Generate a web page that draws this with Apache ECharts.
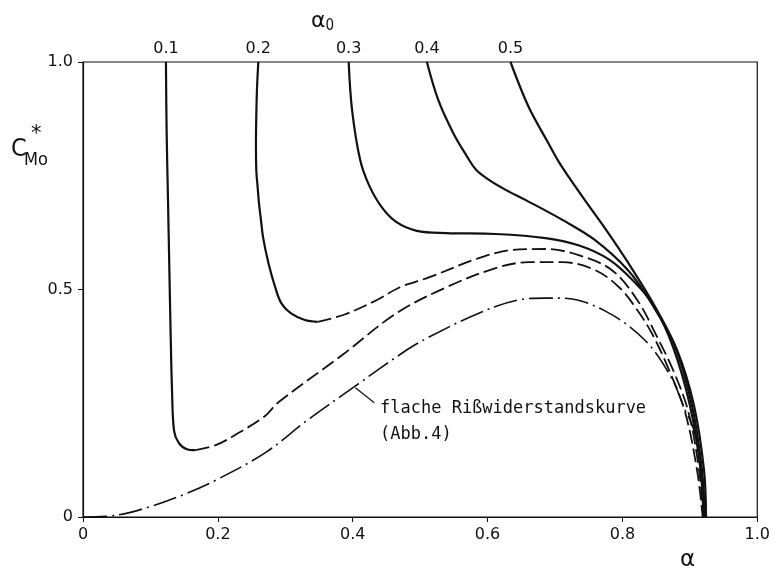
<!DOCTYPE html>
<html>
<head>
<meta charset="utf-8">
<script src="https://cdn.jsdelivr.net/npm/echarts@6/dist/echarts.min.js"></script>
<style>
  html, body { margin: 0; padding: 0; background: #fff; }
  #chart { width: 773px; height: 579px; }
</style>
</head>
<body>
<div id="chart"></div>
<script>
'use strict';

// curves, [alpha, C*Mo]
var alpha0Labels = ['0.1', '0.2', '0.3', '0.4', '0.5'];

var curve01 = [[0.123,1.0],[0.124,0.85],[0.126,0.70],[0.128,0.55],[0.130,0.40],[0.132,0.28],[0.135,0.19],[0.142,0.163],[0.154,0.149],[0.167,0.147]];
var dash01 = [[0.167,0.147],[0.197,0.158],[0.231,0.185],[0.270,0.222],[0.289,0.251],[0.388,0.360],[0.465,0.448],[0.539,0.505],[0.612,0.547],[0.661,0.560],[0.711,0.560],[0.759,0.543],[0.795,0.505],[0.822,0.455],[0.845,0.40],[0.870,0.32],[0.893,0.23],[0.911,0.10],[0.919,0.0]];

var curve02 = [[0.260,1.0],[0.258,0.94],[0.257,0.88],[0.2565,0.82],[0.257,0.763],[0.259,0.725],[0.261,0.690],[0.264,0.652],[0.267,0.615],[0.275,0.558],[0.285,0.505],[0.294,0.470],[0.308,0.448],[0.329,0.433],[0.348,0.429]];
var dash02 = [[0.348,0.429],[0.388,0.445],[0.436,0.477],[0.470,0.505],[0.514,0.527],[0.587,0.569],[0.637,0.587],[0.686,0.589],[0.734,0.576],[0.784,0.543],[0.822,0.477],[0.850,0.40],[0.876,0.32],[0.898,0.23],[0.914,0.10],[0.920,0.0]];

var curve03 = [[0.394,1.0],[0.399,0.895],[0.411,0.785],[0.424,0.730],[0.443,0.681],[0.465,0.648],[0.495,0.629],[0.539,0.624],[0.612,0.622],[0.686,0.613],[0.737,0.596],[0.781,0.565],[0.818,0.516],[0.846,0.466],[0.875,0.374],[0.900,0.246],[0.916,0.103],[0.920,0.0]];

var curve04 = [[0.510,1.0],[0.527,0.916],[0.549,0.844],[0.568,0.796],[0.583,0.763],[0.602,0.741],[0.627,0.719],[0.656,0.697],[0.711,0.653],[0.759,0.609],[0.808,0.543],[0.840,0.477],[0.877,0.378],[0.903,0.246],[0.918,0.103],[0.922,0.0]];

var curve05 = [[0.634,1.0],[0.661,0.901],[0.690,0.822],[0.705,0.782],[0.720,0.748],[0.744,0.697],[0.774,0.635],[0.808,0.560],[0.847,0.466],[0.881,0.367],[0.906,0.246],[0.921,0.103],[0.924,0.0]];

// flache Risswiderstandskurve
var flatCurve = [[0.0,0.0],[0.05,0.004],[0.098,0.022],[0.147,0.048],[0.197,0.081],[0.270,0.141],[0.333,0.213],[0.402,0.286],[0.480,0.367],[0.514,0.396],[0.587,0.448],[0.646,0.477],[0.686,0.481],[0.711,0.481],[0.774,0.453],[0.833,0.389],[0.872,0.308],[0.891,0.242],[0.906,0.191],[0.916,0.110],[0.921,0.0]];

var xTicks = [0, 0.2, 0.4, 0.6, 0.8, 1.0];
var yTicks = [0, 0.5, 1.0];

var FONT = '"DejaVu Sans", sans-serif';
var NARROW = '"DejaVu Sans Condensed", "DejaVu Sans", sans-serif';
var MONO = '"DejaVu Sans Mono", monospace';
var INK = '#111';

// first point carries the alpha0 label above the frame
function withTopLabel(points, text){
  var d = points.map(function(p){ return p.slice(); });
  d[0] = {
    value: points[0],
    symbol: 'circle', symbolSize: 1,
    itemStyle: { color: INK },
    label: {
      show: true, position: 'top', distance: 5,
      formatter: text, color: INK, fontSize: 16, fontFamily: FONT
    }
  };
  return d;
}

function solid(points, text){
  return {
    type: 'line', data: withTopLabel(points, text),
    symbol: 'none', showSymbol: true, showAllSymbol: true,
    smooth: 0.35, lineStyle: { color: INK, width: 2.2, type: 'solid' }, z: 3
  };
}
function plain(points, style){
  return {
    type: 'line', data: points, showSymbol: false, symbol: 'none',
    smooth: 0.35, lineStyle: style, z: 2
  };
}

var chart = echarts.init(document.getElementById('chart'));

var option = {
  animation: false,
  backgroundColor: '#fff',
  grid: { left: 83, right: 9, top: 62, bottom: 62, show: true, borderColor: INK, borderWidth: 1.2 },
  xAxis: {
    type: 'value', min: 0, max: 1, interval: 0.2,
    axisLine: { show: true, lineStyle: { color: INK, width: 1.2 } },
    axisTick: { show: true, length: 5, lineStyle: { color: INK } },
    splitLine: { show: false },
    axisLabel: {
      color: INK, fontSize: 16, fontFamily: FONT, margin: 10,
      formatter: function(v){ return xTicks.indexOf(v) < 0 ? '' : (v === 0 ? '0' : v.toFixed(1)); }
    }
  },
  yAxis: {
    type: 'value', min: 0, max: 1, interval: 0.5,
    axisLine: { show: true, lineStyle: { color: INK, width: 1.2 } },
    axisTick: { show: true, length: 5, lineStyle: { color: INK } },
    splitLine: { show: false },
    axisLabel: {
      color: INK, fontSize: 16, fontFamily: FONT, margin: 10,
      formatter: function(v){ return yTicks.indexOf(v) < 0 ? '' : (v === 0 ? '0' : v.toFixed(1)); }
    }
  },
  series: [
    solid(curve01, alpha0Labels[0]),
    plain(dash01, { color: INK, width: 1.8, type: [14, 5] }),
    solid(curve02, alpha0Labels[1]),
    plain(dash02, { color: INK, width: 1.8, type: [14, 5] }),
    solid(curve03, alpha0Labels[2]),
    solid(curve04, alpha0Labels[3]),
    solid(curve05, alpha0Labels[4]),
    {
      type: 'line', data: flatCurve, showSymbol: false, symbol: 'none', smooth: 0.35,
      lineStyle: { color: INK, width: 1.6, type: [24, 5, 2, 5] }, z: 2,
      markLine: {
        silent: true, symbol: 'none', animation: false,
        lineStyle: { color: INK, width: 1.2, type: 'solid' },
        label: { show: false },
        data: [[ { coord: [0.404, 0.284] }, { coord: [0.432, 0.251] } ]]
      }
    }
  ],
  graphic: [
    { type: 'text', left: 311, top: 10, style: {
        text: '{a|α}{s|0}', fill: INK,
        rich: {
          a: { fontSize: 22, fontFamily: FONT, fill: INK },
          s: { fontSize: 15, fontFamily: NARROW, fill: INK, padding: [10, 0, 0, 0] }
        } } },
    { type: 'text', left: 11, top: 137, style: { text: 'C', fontSize: 25, fontFamily: NARROW, fill: INK } },
    { type: 'text', left: 31, top: 124, style: { text: '*', fontSize: 21, fontFamily: FONT, fill: INK } },
    { type: 'text', left: 24, top: 151, style: { text: 'Mo', fontSize: 18, fontFamily: NARROW, fill: INK } },
    { type: 'text', left: 680, top: 549, style: { text: 'α', fontSize: 23, fontFamily: FONT, fill: INK } },
    { type: 'text', left: 380, top: 396, style: {
        text: 'flache Rißwiderstandskurve\n(Abb.4)', fontSize: 17, lineHeight: 26,
        fontFamily: MONO, fill: INK } }
  ]
};

chart.setOption(option);
</script>
</body>
</html>
